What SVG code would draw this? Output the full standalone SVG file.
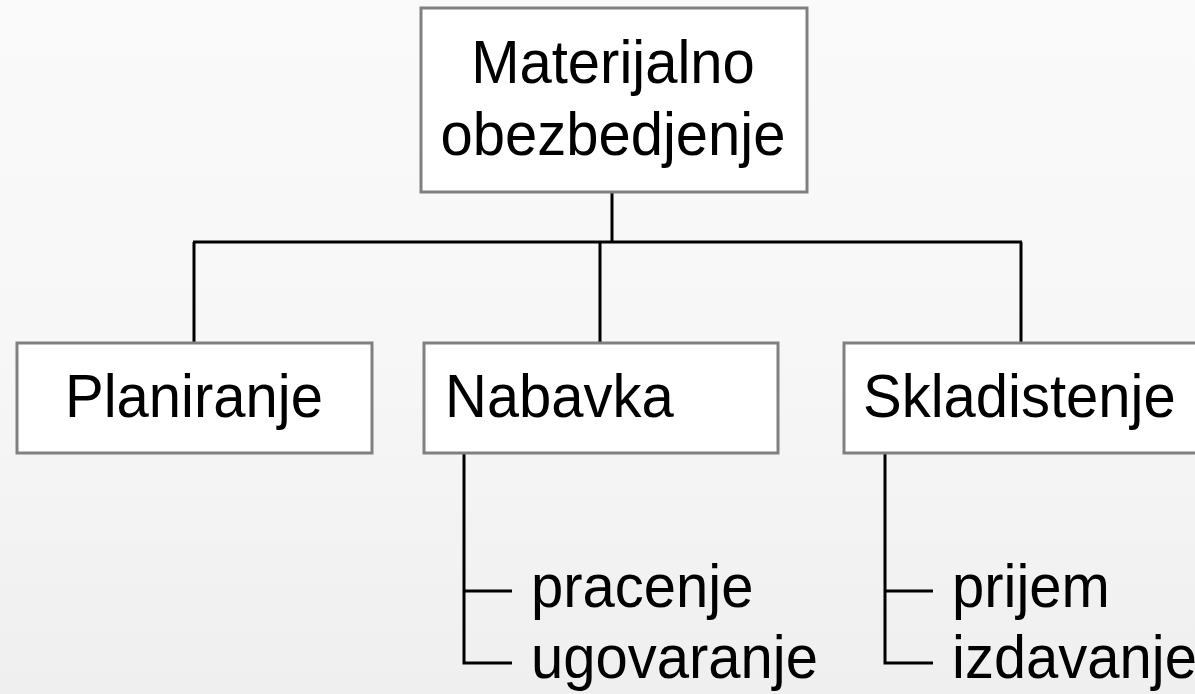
<svg xmlns="http://www.w3.org/2000/svg" width="1195" height="694" viewBox="0 0 1195 694">
<defs>
<linearGradient id="bg" x1="0" y1="0" x2="0" y2="1">
<stop offset="0" stop-color="#fafafa"/>
<stop offset="0.5" stop-color="#f7f7f7"/>
<stop offset="1" stop-color="#efefef"/>
</linearGradient>
</defs>
<style>
.box{fill:#ffffff;stroke:#808080;stroke-width:3}
.t{font-family:"Liberation Sans",Arial,sans-serif;font-size:58px;fill:#000000}
.c{fill:none;stroke:#000000;stroke-width:3}
</style>
<rect x="0" y="0" width="1195" height="694" fill="url(#bg)"/>
<g id="connectors">
<path class="c" d="M612 193 V242 M193 242 H1022 M194 242 V342 M600 242 V342 M1021 242 V342"/>
<path class="c" d="M464 453 V663 H512 M464 591 H512"/>
<path class="c" d="M885 453 V663 H933 M885 591 H933"/>
</g>
<g id="node-materijalno">
<rect class="box" x="421" y="8" width="386" height="184"/>
<text class="t" text-anchor="middle" transform="translate(613,83) scale(1,1.06)">Materijalno</text>
<text class="t" text-anchor="middle" transform="translate(613,155) scale(1,1.06)">obezbedjenje</text>
</g>
<g id="node-planiranje">
<rect class="box" x="17" y="343" width="355" height="110"/>
<text class="t" text-anchor="middle" transform="translate(194,417) scale(1,1.06)">Planiranje</text>
</g>
<g id="node-nabavka">
<rect class="box" x="424" y="343" width="354" height="110"/>
<text class="t" transform="translate(445,417) scale(1,1.06)">Nabavka</text>
</g>
<g id="node-skladistenje">
<rect class="box" x="844" y="343" width="354" height="110"/>
<text class="t" transform="translate(863,417) scale(1,1.06)">Skladistenje</text>
</g>
<g id="list-nabavka">
<text class="t" transform="translate(531,607) scale(1,1.06)">pracenje</text>
<text class="t" transform="translate(531,678) scale(1,1.06)">ugovaranje</text>
</g>
<g id="list-skladistenje">
<text class="t" transform="translate(952,607) scale(1,1.06)">prijem</text>
<text class="t" transform="translate(952,678) scale(1,1.06)">izdavanje</text>
</g>
</svg>
